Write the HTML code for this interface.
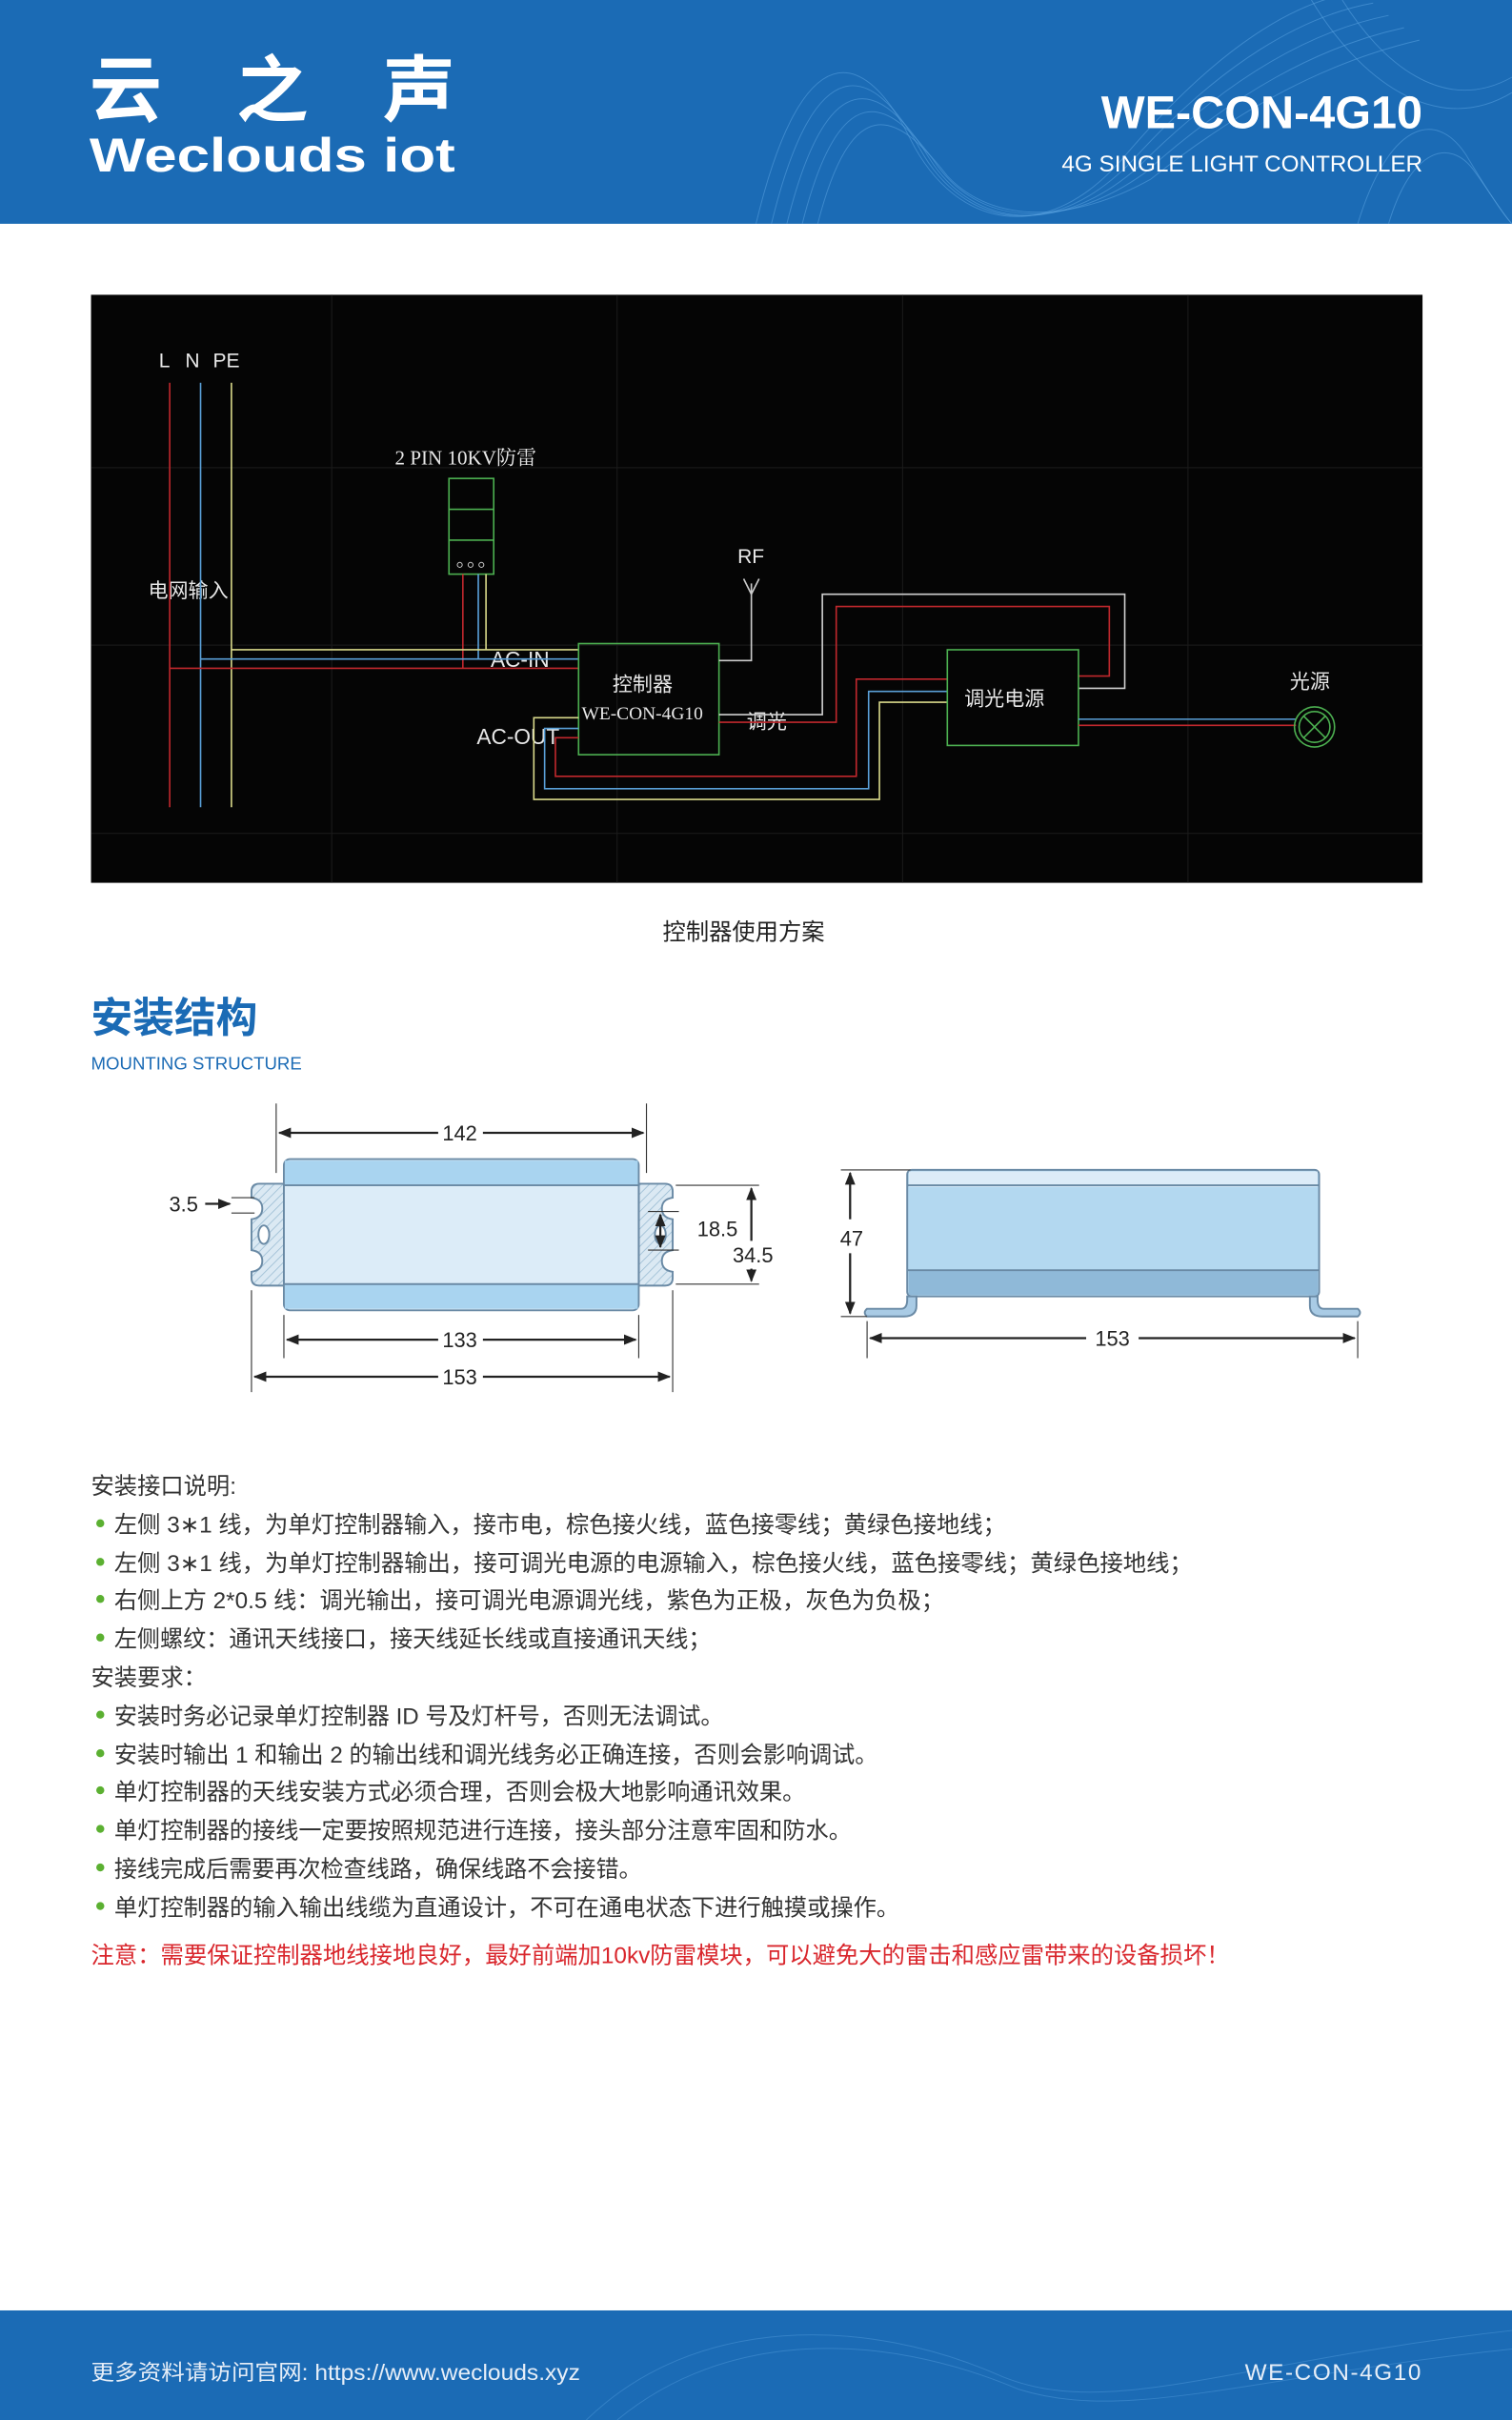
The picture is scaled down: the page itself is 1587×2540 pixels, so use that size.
<!DOCTYPE html>
<html><head><meta charset="utf-8"><style>
html,body{margin:0;padding:0;background:#fff}
svg{display:block}
</style></head><body>
<svg width="1587" height="2540" viewBox="0 0 980 1568" preserveAspectRatio="none" xmlns="http://www.w3.org/2000/svg" font-family="'Liberation Sans','Noto Sans CJK SC',sans-serif">
<!-- header -->
<rect x="0" y="0" width="980" height="145" fill="#1b6bb5"/>
<g fill="none" stroke="#5aa2e0" stroke-opacity="0.55" stroke-width="0.6">
<path d="M490 145 C520 20 560 30 590 90 C620 150 680 160 730 100 C790 30 840 0 880 -5"/>
<path d="M500 145 C528 30 565 40 596 96 C626 150 684 156 734 104 C792 40 845 10 890 2"/>
<path d="M510 145 C536 40 570 50 602 102 C632 150 688 152 738 108 C796 50 850 20 900 10"/>
<path d="M520 145 C544 50 575 60 608 108 C638 148 692 148 742 112 C800 60 855 30 910 18"/>
<path d="M530 145 C552 60 580 70 614 114 C644 146 696 144 746 116 C804 70 860 40 920 26"/>
<path d="M880 145 C900 80 930 70 950 100 C965 125 975 140 980 145"/>
<path d="M900 145 C915 95 940 90 955 110 C968 128 975 140 980 145"/>
<path d="M850 0 C880 50 930 90 980 60"/>
<path d="M870 0 C895 40 935 75 980 50"/>
</g>
<text x="58" y="75" font-size="47" font-weight="bold" fill="#fff" textLength="237" lengthAdjust="spacing">云之声</text>
<text x="58" y="111" font-size="31" font-weight="bold" fill="#fff" textLength="237" lengthAdjust="spacingAndGlyphs">Weclouds iot</text>
<text x="922" y="83" font-size="30" font-weight="bold" fill="#fff" text-anchor="end">WE-CON-4G10</text>
<text x="922" y="111" font-size="15" fill="#fff" text-anchor="end">4G SINGLE LIGHT CONTROLLER</text>

<!-- diagram -->
<rect x="59" y="191" width="863" height="381" fill="#050505"/>
<g stroke="#1c1c1c" stroke-width="0.6">
<line x1="59" y1="303" x2="922" y2="303"/><line x1="59" y1="418" x2="922" y2="418"/><line x1="59" y1="540" x2="922" y2="540"/>
<line x1="215" y1="191" x2="215" y2="572"/><line x1="400" y1="191" x2="400" y2="572"/><line x1="585" y1="191" x2="585" y2="572"/><line x1="770" y1="191" x2="770" y2="572"/>
</g>
<g font-size="13" fill="#e8e8e8">
<text x="103" y="238">L</text><text x="120" y="238">N</text><text x="138" y="238">PE</text>
<text x="96" y="387" font-size="13">电网输入</text>
<text x="256" y="301" font-family="'Liberation Serif','Noto Serif CJK SC',serif">2 PIN 10KV防雷</text>
<text x="478" y="365">RF</text>
<text x="318" y="432" font-size="14">AC-IN</text>
<text x="309" y="482" font-size="14">AC-OUT</text>
<text x="397" y="448" font-size="13">控制器</text>
<text x="377" y="466" font-size="12" font-family="'Liberation Serif',serif">WE-CON-4G10</text>
<text x="484" y="472" font-size="13">调光</text>
<text x="625" y="457" font-size="13">调光电源</text>
<text x="836" y="446" font-size="13">光源</text>
</g>
<g fill="none" stroke-width="1">
<line x1="110" y1="248" x2="110" y2="523" stroke="#c0282d"/>
<line x1="130" y1="248" x2="130" y2="523" stroke="#5aa0d8"/>
<line x1="150" y1="248" x2="150" y2="523" stroke="#d8d88a"/>
<rect x="291" y="310" width="29" height="62" stroke="#4caf50"/>
<line x1="291" y1="330" x2="320" y2="330" stroke="#4caf50"/>
<line x1="291" y1="350" x2="320" y2="350" stroke="#4caf50"/>
<circle cx="298" cy="366" r="1.6" stroke="#ccc" stroke-width="0.6"/><circle cx="305" cy="366" r="1.6" stroke="#ccc" stroke-width="0.6"/><circle cx="312" cy="366" r="1.6" stroke="#ccc" stroke-width="0.6"/>
<polyline points="300,372 300,433" stroke="#c0282d"/>
<polyline points="310,372 310,427" stroke="#5aa0d8"/>
<polyline points="315,372 315,421" stroke="#d8d88a"/>
<line x1="150" y1="421" x2="375" y2="421" stroke="#d8d88a"/>
<line x1="130" y1="427" x2="375" y2="427" stroke="#5aa0d8"/>
<line x1="110" y1="433" x2="375" y2="433" stroke="#c0282d"/>
<rect x="375" y="417" width="91" height="72" stroke="#4caf50"/>
<polyline points="466,428 487,428 487,378" stroke="#ccc"/>
<polyline points="482,375 487,385 492,375" stroke="#ccc"/>
<polyline points="375,478 360,478 360,503 555,503 555,440 614,440" stroke="#c0282d"/>
<polyline points="375,472 353,472 353,511 563,511 563,448 614,448" stroke="#5aa0d8"/>
<polyline points="375,465 346,465 346,518 570,518 570,455 614,455" stroke="#d8d88a"/>
<polyline points="466,463 533,463 533,385 729,385 729,446 699,446" stroke="#cfcfcf"/>
<polyline points="466,468 542,468 542,393 719,393 719,438 699,438" stroke="#c0282d"/>
<rect x="614" y="421" width="85" height="62" stroke="#4caf50"/>
<line x1="699" y1="466" x2="840" y2="466" stroke="#5aa0d8"/>
<line x1="699" y1="470" x2="840" y2="470" stroke="#c0282d"/>
<circle cx="852" cy="471" r="13" stroke="#4caf50"/>
<circle cx="852" cy="471" r="10" stroke="#4caf50"/>
<line x1="845" y1="464" x2="859" y2="478" stroke="#4caf50"/><line x1="859" y1="464" x2="845" y2="478" stroke="#4caf50"/>
</g>
<text x="482" y="609" font-size="15" fill="#222" text-anchor="middle">控制器使用方案</text>

<text x="59" y="669" font-size="27" font-weight="bold" fill="#1b6bb5">安装结构</text>
<text x="59" y="693" font-size="11.5" fill="#1b6bb5">MOUNTING STRUCTURE</text>

<!-- mounting drawings -->
<defs>
<pattern id="h" width="4" height="4" patternUnits="userSpaceOnUse" patternTransform="rotate(45)"><rect width="4" height="4" fill="#dbe9f3"/><line x1="0" y1="0" x2="0" y2="4" stroke="#9bbcd3" stroke-width="1"/></pattern>
<marker id="a" viewBox="0 0 10 10" refX="9" refY="5" markerWidth="6" markerHeight="6" orient="auto-start-reverse"><path d="M0,1 L10,5 L0,9z" fill="#222"/></marker>
</defs>
<g stroke="#6a8aa5" stroke-width="1.2">
<path d="M184 767 L168 767 Q163 767 163 772 L163 776 Q170 777 170 783 Q170 789 163 790 L163 810 Q170 811 170 817 Q170 823 163 824 L163 828 Q163 833 168 833 L184 833Z" fill="url(#h)"/>
<path d="M414 767 L431 767 Q436 767 436 772 L436 776 Q429 777 429 783 Q429 789 436 790 L436 810 Q429 811 429 817 Q429 823 436 824 L436 828 Q436 833 431 833 L414 833Z" fill="url(#h)"/>
<ellipse cx="171" cy="800" rx="3.5" ry="6" fill="#fff"/><ellipse cx="428" cy="800" rx="3.5" ry="6" fill="#fff"/>
<rect x="184" y="751" width="230" height="98" rx="4" fill="#dcecf8"/>
<rect x="184.6" y="752" width="228.8" height="16" fill="#a9d4f0" stroke="none"/>
<rect x="184.6" y="832" width="228.8" height="16" fill="#a9d4f0" stroke="none"/>
<line x1="184" y1="768" x2="414" y2="768"/><line x1="184" y1="832" x2="414" y2="832"/>
<rect x="588" y="758" width="267" height="82" rx="3" fill="#b3d8f0"/>
<rect x="589" y="759" width="265" height="10" fill="#dcecf8" stroke="none"/>
<rect x="589" y="823" width="265" height="16" fill="#8fb9d8" stroke="none"/>
<line x1="588" y1="768" x2="855" y2="768"/><line x1="588" y1="823" x2="855" y2="823"/>
<path d="M562 848 L584 848 Q588 848 588 842 L588 840 L594 840 L594 846 Q594 853 586 853 L562 853Q559 850.5 562 848Z" fill="#a9cbe5"/>
<path d="M880 848 L858 848 Q854 848 854 842 L854 840 L849 840 L849 846 Q849 853 857 853 L880 853Q883 850.5 880 848Z" fill="#a9cbe5"/>
</g>
<g stroke="#333" stroke-width="0.7" fill="none">
<line x1="179" y1="715" x2="179" y2="760"/><line x1="419" y1="715" x2="419" y2="760"/>
<line x1="184" y1="852" x2="184" y2="880"/><line x1="414" y1="852" x2="414" y2="880"/>
<line x1="163" y1="836" x2="163" y2="902"/><line x1="436" y1="836" x2="436" y2="902"/>
<line x1="438" y1="768" x2="492" y2="768"/><line x1="438" y1="832" x2="492" y2="832"/>
<line x1="420" y1="785" x2="440" y2="785"/><line x1="420" y1="810" x2="440" y2="810"/>
<line x1="150" y1="776" x2="165" y2="776"/><line x1="150" y1="786" x2="165" y2="786"/>
<line x1="545" y1="758" x2="590" y2="758"/><line x1="545" y1="853" x2="562" y2="853"/>
<line x1="562" y1="856" x2="562" y2="880"/><line x1="880" y1="856" x2="880" y2="880"/>
</g>
<g stroke="#222" stroke-width="1.4" fill="none" marker-start="url(#a)" marker-end="url(#a)">
<line x1="181" y1="734" x2="284" y2="734" marker-end="none"/><line x1="313" y1="734" x2="417" y2="734" marker-start="none"/>
<line x1="186" y1="868" x2="284" y2="868" marker-end="none"/><line x1="313" y1="868" x2="412" y2="868" marker-start="none"/>
<line x1="165" y1="892" x2="284" y2="892" marker-end="none"/><line x1="313" y1="892" x2="434" y2="892" marker-start="none"/>
<line x1="428" y1="787" x2="428" y2="808"/>
<line x1="487" y1="770" x2="487" y2="804" marker-end="none"/><line x1="487" y1="822" x2="487" y2="830" marker-start="none"/>
<line x1="551" y1="760" x2="551" y2="790" marker-end="none"/><line x1="551" y1="812" x2="551" y2="851" marker-start="none"/>
<line x1="564" y1="867" x2="704" y2="867" marker-end="none"/><line x1="738" y1="867" x2="878" y2="867" marker-start="none"/>
<line x1="133" y1="780" x2="149" y2="780" marker-start="none"/>
</g>
<g font-size="13.5" fill="#222" text-anchor="middle">
<text x="298" y="739">142</text><text x="298" y="873">133</text><text x="298" y="897">153</text>
<text x="119" y="785">3.5</text><text x="465" y="801">18.5</text><text x="488" y="818">34.5</text>
<text x="552" y="807">47</text><text x="721" y="872">153</text>
</g>

<!-- text -->
<g font-size="15" fill="#333">
<text x="59" y="968">安装接口说明:</text>
<text x="74" y="993" textLength="578" lengthAdjust="spacingAndGlyphs">左侧 3∗1 线，为单灯控制器输入，接市电，棕色接火线，蓝色接零线；黄绿色接地线；</text>
<text x="74" y="1018" textLength="699" lengthAdjust="spacingAndGlyphs">左侧 3∗1 线，为单灯控制器输出，接可调光电源的电源输入，棕色接火线，蓝色接零线；黄绿色接地线；</text>
<text x="74" y="1042" textLength="538" lengthAdjust="spacingAndGlyphs">右侧上方 2*0.5 线：调光输出，接可调光电源调光线，紫色为正极，灰色为负极；</text>
<text x="74" y="1067" textLength="387" lengthAdjust="spacingAndGlyphs">左侧螺纹：通讯天线接口，接天线延长线或直接通讯天线；</text>
<text x="59" y="1092">安装要求：</text>
<text x="74" y="1117" textLength="395" lengthAdjust="spacingAndGlyphs">安装时务必记录单灯控制器 ID 号及灯杆号，否则无法调试。</text>
<text x="74" y="1142" textLength="495" lengthAdjust="spacingAndGlyphs">安装时输出 1 和输出 2 的输出线和调光线务必正确连接，否则会影响调试。</text>
<text x="74" y="1166" textLength="448" lengthAdjust="spacingAndGlyphs">单灯控制器的天线安装方式必须合理，否则会极大地影响通讯效果。</text>
<text x="74" y="1191" textLength="478" lengthAdjust="spacingAndGlyphs">单灯控制器的接线一定要按照规范进行连接，接头部分注意牢固和防水。</text>
<text x="74" y="1216" textLength="342" lengthAdjust="spacingAndGlyphs">接线完成后需要再次检查线路，确保线路不会接错。</text>
<text x="74" y="1241" textLength="509" lengthAdjust="spacingAndGlyphs">单灯控制器的输入输出线缆为直通设计，不可在通电状态下进行触摸或操作。</text>
<text x="59" y="1272" fill="#d9262c" textLength="738" lengthAdjust="spacingAndGlyphs">注意：需要保证控制器地线接地良好，最好前端加10kv防雷模块，可以避免大的雷击和感应雷带来的设备损坏！</text>
</g>
<g fill="#5bb031">
<circle cx="65" cy="987" r="2.6"/><circle cx="65" cy="1012" r="2.6"/><circle cx="65" cy="1036" r="2.6"/><circle cx="65" cy="1061" r="2.6"/>
<circle cx="65" cy="1111" r="2.6"/><circle cx="65" cy="1136" r="2.6"/><circle cx="65" cy="1160" r="2.6"/><circle cx="65" cy="1185" r="2.6"/><circle cx="65" cy="1210" r="2.6"/><circle cx="65" cy="1235" r="2.6"/>
</g>

<!-- footer -->
<rect x="0" y="1497" width="980" height="71" fill="#1b6bb5"/>
<g fill="none" stroke="#5aa2e0" stroke-opacity="0.4" stroke-width="0.6">
<path d="M380 1568 C450 1500 560 1500 650 1540 C720 1568 800 1530 980 1510"/>
<path d="M400 1568 C470 1510 570 1510 660 1548 C730 1570 810 1540 980 1522"/>
</g>
<text x="59" y="1542" font-size="14" fill="#e6eef8" textLength="317" lengthAdjust="spacingAndGlyphs">更多资料请访问官网: https://www.weclouds.xyz</text>
<text x="922" y="1542" font-size="15" fill="#e6eef8" text-anchor="end" letter-spacing="1">WE-CON-4G10</text>
</svg>
</body></html>
